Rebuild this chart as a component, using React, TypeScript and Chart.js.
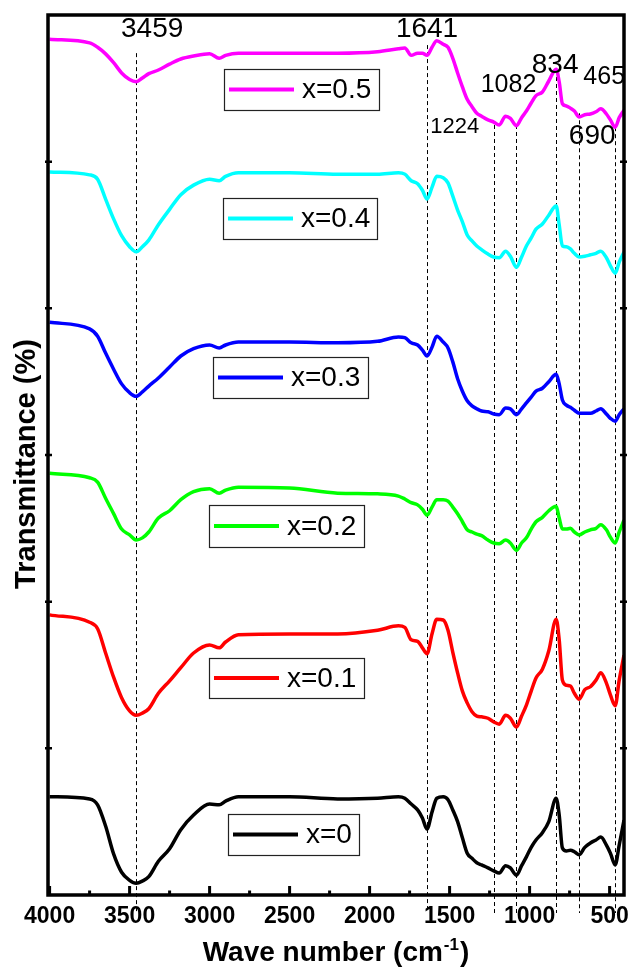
import { useEffect, useRef } from "react";
import { Chart, registerables } from "chart.js";

Chart.register(...registerables);

// Wavenumbers (cm^-1) at which every spectrum is sampled
const wavenumbers = [
  4000, 3750, 3700, 3650, 3600, 3550, 3500, 3459, 3420, 3380,
  3320, 3250, 3180, 3100, 3000, 2940, 2900, 2820, 2500, 2200,
  1950, 1820, 1780, 1740, 1700, 1670, 1641, 1610, 1580, 1540,
  1510, 1480, 1450, 1420, 1390, 1360, 1330, 1300, 1260, 1224,
  1190, 1150, 1120, 1082, 1050, 1020, 990, 960, 920, 880,
  834, 815, 795, 770, 745, 720, 690, 655, 620, 585,
  555, 520, 495, 465, 440, 410,
];

// Stacked transmittance (%) for each composition
const transX0 = [
  13.4, 13.1, 12.3, 9.4, 5.6, 3.1, 2.0, 1.6, 1.9, 2.5,
  4.6, 6.3, 8.9, 10.9, 12.4, 12.3, 12.8, 13.4, 13.4, 13.1,
  13.2, 13.4, 13.2, 12.4, 11.6, 10.5, 9.0, 11.3, 13.2, 13.4,
  13.0, 11.6, 10.0, 7.8, 5.7, 5.0, 4.4, 4.1, 3.7, 3.3,
  3.0, 4.0, 3.7, 2.7, 4.0, 5.2, 6.5, 7.5, 8.5, 10.0,
  13.2, 10.9, 6.4, 6.0, 6.1, 5.9, 5.5, 6.5, 7.1, 7.5,
  7.9, 6.8, 5.7, 4.1, 6.8, 10.2,
];
const transX01 = [
  38.2, 37.2, 36.3, 33.0, 29.7, 26.9, 25.1, 24.5, 24.8, 25.4,
  27.5, 29.2, 31.0, 33.0, 34.1, 33.7, 34.5, 35.5, 35.6, 35.6,
  36.1, 36.7, 36.5, 34.8, 34.6, 33.7, 32.9, 35.6, 37.6, 37.5,
  36.1, 33.1, 30.3, 27.8, 26.2, 25.0, 24.4, 24.3, 24.1, 23.6,
  23.3, 24.5, 24.1, 22.9, 24.4, 25.9, 27.8, 29.6, 30.8, 33.3,
  37.6, 34.8, 29.3, 28.6, 28.5, 27.5, 26.7, 28.0, 28.4, 29.3,
  30.3, 28.9, 27.3, 25.8, 29.3, 32.7,
];
const transX02 = [
  57.5, 56.9, 56.3, 54.1, 52.0, 49.9, 49.1, 48.4, 48.7, 49.5,
  51.4, 52.4, 53.9, 55.0, 55.4, 54.8, 55.2, 55.6, 55.5, 54.8,
  54.7, 54.4, 54.0, 53.5, 53.2, 52.6, 51.8, 52.9, 53.9, 53.9,
  53.7, 52.9, 52.0, 50.9, 49.8, 49.5, 49.2, 49.0, 48.4, 48.0,
  47.9, 48.4, 48.0, 47.0, 48.0, 48.7, 49.9, 50.9, 51.5, 52.4,
  53.0, 51.4, 49.9, 49.9, 50.0, 49.5, 49.1, 49.5, 49.8, 50.0,
  50.5, 49.8, 48.8, 48.0, 49.5, 51.1,
];
const transX03 = [
  78.1, 77.2, 76.2, 73.9, 71.7, 69.7, 68.5, 68.0, 68.6, 69.4,
  70.5, 72.0, 73.5, 74.5, 75.0, 74.6, 75.0, 75.4, 75.4, 75.3,
  75.5, 76.1, 76.0, 75.3, 75.0, 74.3, 73.5, 74.7, 76.2, 75.4,
  74.6, 72.7, 70.4, 68.7, 67.4, 66.7, 66.3, 66.0, 65.9, 65.6,
  65.5, 66.4, 66.3, 65.5, 66.3, 67.1, 67.9, 68.7, 69.1, 70.0,
  71.0, 69.7, 67.5, 66.8, 66.5, 66.1, 65.7, 65.7, 65.7, 66.0,
  66.3, 65.6, 65.0, 64.6, 65.5, 66.3,
];
const transX04 = [
  98.6, 98.2, 97.6, 94.9, 92.2, 89.9, 88.4, 87.7, 88.4, 89.3,
  91.4, 93.5, 95.5, 96.8, 97.6, 97.4, 98.0, 98.5, 98.5, 98.3,
  98.3, 98.5, 98.3, 97.4, 97.0, 96.1, 94.9, 96.5, 98.0, 97.8,
  97.1, 95.3, 93.4, 91.8, 90.0, 89.2, 88.5, 88.0, 87.4, 87.0,
  86.9, 87.8, 87.1, 85.6, 87.0, 88.5, 89.6, 90.8, 91.5, 92.7,
  94.0, 91.4, 88.5, 88.4, 88.1, 87.5, 87.0, 87.1, 87.3, 87.5,
  87.8, 86.9, 85.8, 84.8, 86.3, 87.7,
];
const transX05 = [
  116.7, 116.2, 115.6, 114.7, 113.5, 112.1, 111.2, 110.9, 111.4, 112.0,
  112.5, 113.3, 114.0, 114.4, 114.7, 114.1, 114.5, 114.8, 114.8, 114.8,
  115.0, 115.4, 115.5, 114.5, 114.8, 114.8, 114.5, 115.6, 116.5, 116.0,
  115.6, 114.1, 112.1, 110.2, 108.5, 107.5, 106.6, 106.2, 105.7, 105.4,
  105.0, 106.2, 105.9, 104.9, 106.0, 106.9, 108.0, 109.0, 109.5, 111.0,
  112.6, 110.9, 107.9, 107.6, 107.3, 106.9, 106.1, 106.4, 106.5, 106.8,
  107.2, 106.5, 105.7, 104.7, 106.0, 107.0,
];

const seriesLabels = ["x=0", "x=0.1", "x=0.2", "x=0.3", "x=0.4", "x=0.5"];
const seriesValues = [transX0, transX01, transX02, transX03, transX04, transX05];
const seriesColors = ["#000000", "#ff0000", "#00ff00", "#0000ff", "#00ffff", "#ff00ff"];

const xTickValues = [4000, 3500, 3000, 2500, 2000, 1500, 1000, 500];
const xMinorTickValues = [3750, 3250, 2750, 2250, 1750, 1250, 750];
const yTickValues = [20, 40, 60, 80, 100];

// Assigned absorption bands and the transmittance where each marker line begins
const bandWavenumbers = [3459, 1641, 1224, 1082, 834, 690, 465];
const bandLineTops = [114.8, 115.9, 105.0, 105.0, 112.5, 106.6, 104.7];

// Band label placement: horizontal shift from the marker line (px), height (transmittance), font size
const bandLabelLayout = [
  { dx: 16, y: 118.1, size: 28 },
  { dx: 0, y: 118.1, size: 28 },
  { dx: -39, y: 104.7, size: 22 },
  { dx: -8, y: 110.5, size: 25 },
  { dx: -1, y: 113.2, size: 28 },
  { dx: 13, y: 103.4, size: 28 },
  { dx: -11, y: 111.5, size: 25 },
];

// One framed legend box per spectrum (canvas px)
const legendLayout = [
  { left: 228, top: 814, right: 359, bottom: 855 },
  { left: 209, top: 658, right: 364, bottom: 698 },
  { left: 209, top: 505, right: 364, bottom: 547 },
  { left: 213, top: 357, right: 368, bottom: 398 },
  { left: 223, top: 198, right: 377, bottom: 239 },
  { left: 224, top: 69, right: 379, bottom: 110 },
];

const FONT = '"Liberation Sans", Arial, Helvetica, sans-serif';

const bandMarkers = {
  id: "bandMarkers",
  beforeDatasetsDraw(chart: any) {
    const { ctx, chartArea, scales } = chart;
    const x = scales.x;
    const y = scales.y;
    ctx.save();
    ctx.strokeStyle = "#000";
    ctx.lineWidth = 1;
    ctx.setLineDash([4, 3]);
    bandWavenumbers.forEach((wn, i) => {
      const px = Math.round(x.getPixelForValue(wn)) + 0.5;
      ctx.beginPath();
      ctx.moveTo(px, y.getPixelForValue(bandLineTops[i]));
      ctx.lineTo(px, chartArea.bottom + 18);
      ctx.stroke();
    });
    ctx.restore();
  },
  afterDatasetsDraw(chart: any) {
    const { ctx, chartArea, scales } = chart;
    const x = scales.x;
    const y = scales.y;
    const { left, right, top, bottom } = chartArea;
    ctx.save();

    // axis frame
    ctx.strokeStyle = "#000";
    ctx.lineWidth = 3.5;
    ctx.strokeRect(left, top, right - left, bottom - top);

    // inward tick marks
    ctx.lineWidth = 3;
    xTickValues.forEach((v) => {
      const px = x.getPixelForValue(v);
      ctx.beginPath();
      ctx.moveTo(px, bottom);
      ctx.lineTo(px, bottom - 9);
      ctx.stroke();
    });
    xMinorTickValues.forEach((v) => {
      const px = x.getPixelForValue(v);
      ctx.beginPath();
      ctx.moveTo(px, bottom);
      ctx.lineTo(px, bottom - 4.5);
      ctx.stroke();
    });
    ctx.lineWidth = 2.5;
    yTickValues.forEach((v) => {
      const py = y.getPixelForValue(v);
      ctx.beginPath();
      ctx.moveTo(left - 3, py);
      ctx.lineTo(left + 4, py);
      ctx.moveTo(right + 3, py);
      ctx.lineTo(right - 4, py);
      ctx.stroke();
    });

    // band labels
    ctx.fillStyle = "#000";
    ctx.textAlign = "center";
    ctx.textBaseline = "middle";
    bandWavenumbers.forEach((wn, i) => {
      const lay = bandLabelLayout[i];
      ctx.font = `${lay.size}px ${FONT}`;
      ctx.fillText(String(wn), x.getPixelForValue(wn) + lay.dx, y.getPixelForValue(lay.y));
    });

    // legend boxes
    legendLayout.forEach((box, i) => {
      ctx.lineWidth = 1.2;
      ctx.strokeStyle = "#222";
      ctx.strokeRect(box.left + 0.5, box.top + 0.5, box.right - box.left, box.bottom - box.top);
      const mid = (box.top + box.bottom) / 2;
      ctx.strokeStyle = seriesColors[i];
      ctx.lineWidth = 4;
      ctx.beginPath();
      ctx.moveTo(box.left + 5, mid);
      ctx.lineTo(box.left + 70, mid);
      ctx.stroke();
      ctx.fillStyle = "#000";
      ctx.font = `28px ${FONT}`;
      ctx.textAlign = "left";
      ctx.textBaseline = "middle";
      ctx.fillText(seriesLabels[i], box.left + 78, mid + 1);
    });

    // y-axis title
    ctx.save();
    ctx.translate(35, (top + bottom) / 2 + 9);
    ctx.rotate(-Math.PI / 2);
    ctx.font = `bold 29px ${FONT}`;
    ctx.textAlign = "center";
    ctx.textBaseline = "alphabetic";
    ctx.fillText("Transmittance (%)", 0, 0);
    ctx.restore();

    // x-axis title with superscript exponent
    const main = "Wave number (cm";
    const sup = "-1";
    const close = ")";
    ctx.textBaseline = "alphabetic";
    ctx.textAlign = "left";
    ctx.font = `bold 28px ${FONT}`;
    const wMain = ctx.measureText(main).width;
    const wClose = ctx.measureText(close).width;
    ctx.font = `bold 17px ${FONT}`;
    const wSup = ctx.measureText(sup).width;
    const total = wMain + wSup + wClose + 2;
    let cx = 336 - total / 2;
    const base = 961;
    ctx.font = `bold 28px ${FONT}`;
    ctx.fillText(main, cx, base);
    cx += wMain + 1;
    ctx.font = `bold 17px ${FONT}`;
    ctx.fillText(sup, cx, base - 11);
    cx += wSup + 1;
    ctx.font = `bold 28px ${FONT}`;
    ctx.fillText(close, cx, base);

    ctx.restore();
  },
};

export default function App() {
  const canvasRef = useRef<HTMLCanvasElement | null>(null);

  useEffect(() => {
    const canvas = canvasRef.current;
    if (!canvas) return;
    const chart = new Chart(canvas, {
      type: "line",
      data: {
        datasets: seriesValues.map((vals, i) => ({
          label: seriesLabels[i],
          data: wavenumbers.map((wn, j) => ({ x: wn, y: vals[j] })),
          borderColor: seriesColors[i],
          backgroundColor: seriesColors[i],
          borderWidth: 3.5,
          pointRadius: 0,
          fill: false,
          cubicInterpolationMode: "monotone" as const,
        })),
      },
      options: {
        animation: false,
        responsive: false,
        maintainAspectRatio: false,
        devicePixelRatio: 1,
        layout: { padding: { top: 15, right: 6, left: 0, bottom: 0 } },
        plugins: {
          legend: { display: false },
          tooltip: { enabled: false },
        },
        scales: {
          x: {
            type: "linear",
            reverse: true,
            min: 410,
            max: 4010,
            afterBuildTicks: (scale: any) => {
              scale.ticks = xTickValues.map((v) => ({ value: v }));
            },
            afterFit: (scale: any) => {
              scale.height = 76;
              scale.paddingLeft = 0;
              scale.paddingRight = 0;
            },
            grid: { display: false, drawTicks: false },
            border: { display: false },
            ticks: {
              color: "#000",
              autoSkip: false,
              maxRotation: 0,
              padding: 8,
              font: { family: FONT, size: 23, weight: "bold" },
              callback: (v: any) => String(v),
            },
          },
          y: {
            type: "linear",
            min: 0,
            max: 120,
            afterFit: (scale: any) => {
              scale.width = 48;
              scale.paddingTop = 0;
              scale.paddingBottom = 0;
            },
            grid: { display: false, drawTicks: false },
            border: { display: false },
            ticks: { display: false, stepSize: 20 },
          },
        },
      },
      plugins: [bandMarkers],
    });
    return () => chart.destroy();
  }, []);

  return (
    <div style={{ position: "absolute", left: 0, top: 0, width: 630, height: 971, background: "#fff" }}>
      <canvas ref={canvasRef} width={630} height={971} style={{ display: "block" }} />
    </div>
  );
}
